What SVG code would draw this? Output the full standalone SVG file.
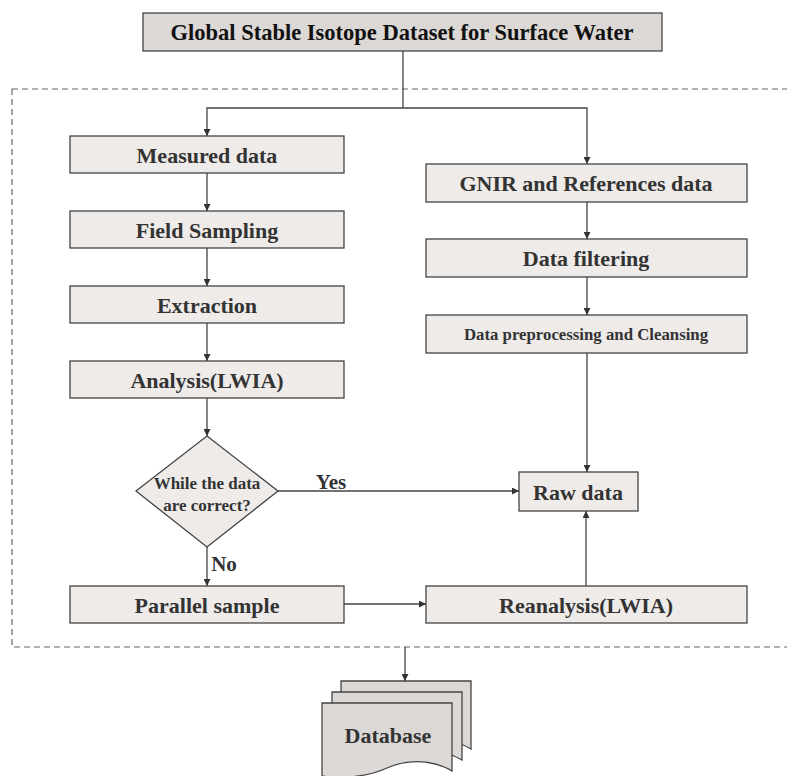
<svg xmlns="http://www.w3.org/2000/svg" width="787" height="776" viewBox="0 0 787 776">
<defs>
<marker id="ah" viewBox="0 0 10 10" refX="10" refY="5" markerWidth="7" markerHeight="7" markerUnits="userSpaceOnUse" orient="auto">
<path d="M0,0 L10,5 L0,10 z" fill="#333"/>
</marker>
<style>
.box{fill:#eeebe9;stroke:#444;stroke-width:1.3}
.dark{fill:#dcd8d6;stroke:#444;stroke-width:1.3}
.t{font-family:'Liberation Serif','Times New Roman',Times,'DejaVu Serif',serif;font-weight:bold;fill:#333;text-anchor:middle;dominant-baseline:central}
.c{fill:none;stroke:#444;stroke-width:1.3}
.ca{fill:none;stroke:#444;stroke-width:1.3;marker-end:url(#ah)}
</style>
</defs>
<rect width="787" height="776" fill="#fff"/>
<rect x="12" y="89" width="790" height="558" fill="none" stroke="#666" stroke-width="1.2" stroke-dasharray="6,4"/>
<g id="top">
<rect class="dark" x="143" y="13" width="519" height="38"/>
<text class="t" x="402" y="32.5" font-size="22.5" style="fill:#111">Global Stable Isotope Dataset for Surface Water</text>
</g>
<g id="measured">
<rect class="box" x="70" y="136" width="274" height="37"/>
<text class="t" x="207" y="155" font-size="22">Measured data</text>
</g>
<g id="field">
<rect class="box" x="70" y="211" width="274" height="37"/>
<text class="t" x="207" y="230" font-size="22">Field Sampling</text>
</g>
<g id="extraction">
<rect class="box" x="70" y="286" width="274" height="37"/>
<text class="t" x="207" y="305" font-size="22">Extraction</text>
</g>
<g id="analysis">
<rect class="box" x="70" y="361" width="274" height="37"/>
<text class="t" x="207" y="380" font-size="22">Analysis(LWIA)</text>
</g>
<g id="decision">
<polygon class="box" points="207,436 278,491 207,547 136,491"/>
<text class="t" x="207" y="483" font-size="17">While the data</text>
<text class="t" x="207" y="505" font-size="17">are correct?</text>
</g>
<g id="parallel">
<rect class="box" x="70" y="586" width="274" height="37"/>
<text class="t" x="207" y="605" font-size="22">Parallel sample</text>
</g>
<g id="gnir">
<rect class="box" x="426" y="164" width="321" height="38"/>
<text class="t" x="586" y="183" font-size="22">GNIR and References data</text>
</g>
<g id="filtering">
<rect class="box" x="426" y="239" width="321" height="38"/>
<text class="t" x="586" y="258" font-size="22">Data filtering</text>
</g>
<g id="preprocessing">
<rect class="box" x="426" y="315" width="321" height="38"/>
<text class="t" x="586" y="334" font-size="16.8">Data preprocessing and Cleansing</text>
</g>
<g id="raw">
<rect class="box" x="519" y="472" width="119" height="39"/>
<text class="t" x="578" y="492" font-size="22">Raw data</text>
</g>
<g id="reanalysis">
<rect class="box" x="426" y="586" width="321" height="37"/>
<text class="t" x="586" y="605" font-size="22">Reanalysis(LWIA)</text>
</g>
<g id="database">
<path class="dark" d="M341,681 H471 V749 C449,736 424,738 406,746 C389,754 360,758 341,754 Z"/>
<path class="dark" d="M332,692 H462 V760 C440,747 415,749 397,757 C380,765 351,769 332,765 Z"/>
<path class="dark" d="M322,703 H452 V771 C430,758 405,760 387,768 C370,776 341,780 322,776 Z"/>
<text class="t" x="388" y="735" font-size="22">Database</text>
</g>
<g id="connectors">
<path class="c" d="M403,51 V108"/>
<path class="ca" d="M403,108 H207 V136"/>
<path class="ca" d="M403,108 H587 V164"/>
<path class="ca" d="M207,173 V211"/>
<path class="ca" d="M207,248 V286"/>
<path class="ca" d="M207,323 V361"/>
<path class="ca" d="M207,398 V436"/>
<path class="ca" d="M587,202 V239"/>
<path class="ca" d="M587,277 V315"/>
<path class="ca" d="M587,353 V472"/>
<path class="ca" d="M278,491 H519"/>
<path class="ca" d="M207,547 V586"/>
<path class="ca" d="M344,604 H426"/>
<path class="ca" d="M586,586 V511"/>
<path class="ca" d="M405,647 V681"/>
<text class="t" x="331" y="482" font-size="21">Yes</text>
<text class="t" x="224" y="564" font-size="21">No</text>
</g>
</svg>
